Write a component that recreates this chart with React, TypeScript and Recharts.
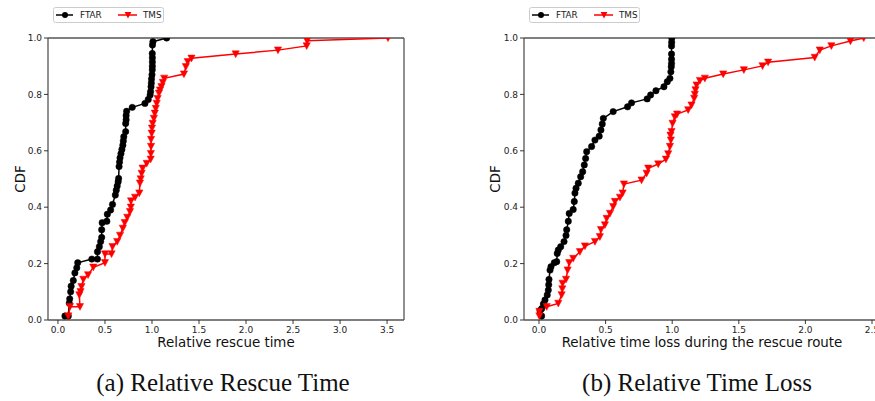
import React from 'react';
import { LineChart, Line, XAxis, YAxis, ReferenceLine } from 'recharts';

const seriesNames = ['FTAR', 'TMS'];
const seriesColors = ['#000000', '#ff0000'];
const cdfTicks = [0, 0.2, 0.4, 0.6, 0.8, 1.0];

// (a) Relative rescue time
const rescueTicks = [0, 0.5, 1.0, 1.5, 2.0, 2.5, 3.0, 3.5];
const ftarRescueX = [0.074, 0.11, 0.12, 0.125, 0.135, 0.14, 0.163, 0.18, 0.2, 0.21, 0.36, 0.42, 0.42, 0.44, 0.454, 0.465, 0.465, 0.47, 0.52, 0.525, 0.56, 0.58, 0.61, 0.62, 0.63, 0.64, 0.645, 0.65, 0.655, 0.66, 0.67, 0.68, 0.69, 0.695, 0.7, 0.72, 0.72, 0.725, 0.725, 0.73, 0.79, 0.925, 0.96, 0.98, 0.985, 0.99, 0.993, 0.995, 1.0, 1.003, 1.004, 1.004, 1.004, 1.003, 1.005, 1.01, 1.156];
const ftarRescueY = [0.014, 0.014, 0.06, 0.075, 0.1, 0.12, 0.14, 0.167, 0.185, 0.203, 0.216, 0.216, 0.242, 0.26, 0.278, 0.293, 0.32, 0.345, 0.35, 0.375, 0.39, 0.41, 0.443, 0.46, 0.475, 0.49, 0.502, 0.544, 0.56, 0.575, 0.59, 0.605, 0.62, 0.635, 0.65, 0.668, 0.697, 0.71, 0.725, 0.74, 0.754, 0.768, 0.782, 0.798, 0.81, 0.827, 0.84, 0.855, 0.87, 0.887, 0.9, 0.915, 0.93, 0.945, 0.975, 0.987, 1.0];
const tmsRescueX = [0.11, 0.128, 0.234, 0.227, 0.24, 0.25, 0.27, 0.32, 0.376, 0.5, 0.5, 0.57, 0.58, 0.63, 0.66, 0.69, 0.71, 0.737, 0.766, 0.775, 0.777, 0.82, 0.865, 0.872, 0.88, 0.89, 0.9, 0.944, 0.986, 0.988, 0.99, 0.99, 0.997, 1.0, 1.007, 1.02, 1.03, 1.04, 1.05, 1.06, 1.074, 1.085, 1.1, 1.115, 1.13, 1.34, 1.36, 1.38, 1.42, 1.89, 2.34, 2.645, 2.65, 3.51];
const tmsRescueY = [0.014, 0.047, 0.047, 0.089, 0.1, 0.118, 0.144, 0.16, 0.187, 0.203, 0.234, 0.234, 0.26, 0.278, 0.3, 0.325, 0.345, 0.364, 0.384, 0.4, 0.422, 0.435, 0.45, 0.485, 0.5, 0.52, 0.538, 0.555, 0.57, 0.59, 0.615, 0.64, 0.662, 0.68, 0.697, 0.715, 0.733, 0.75, 0.768, 0.785, 0.804, 0.815, 0.827, 0.842, 0.857, 0.872, 0.898, 0.916, 0.928, 0.943, 0.957, 0.972, 0.99, 1.0];

// (b) Relative time loss
const lossTicks = [0, 0.5, 1.0, 1.5, 2.0, 2.5];
const ftarLossX = [0.02, 0.008, 0.02, 0.033, 0.045, 0.062, 0.07, 0.073, 0.075, 0.083, 0.09, 0.115, 0.133, 0.137, 0.145, 0.163, 0.188, 0.203, 0.208, 0.22, 0.227, 0.257, 0.265, 0.27, 0.278, 0.295, 0.313, 0.328, 0.34, 0.35, 0.358, 0.395, 0.42, 0.452, 0.465, 0.475, 0.483, 0.557, 0.665, 0.695, 0.812, 0.838, 0.878, 0.938, 0.963, 0.983, 0.99, 0.993, 0.995, 0.995, 0.995, 0.995, 0.996, 0.997];
const ftarLossY = [0.014, 0.033, 0.04, 0.057, 0.071, 0.089, 0.106, 0.125, 0.144, 0.177, 0.189, 0.203, 0.207, 0.236, 0.248, 0.26, 0.278, 0.3, 0.32, 0.35, 0.378, 0.392, 0.42, 0.45, 0.467, 0.485, 0.508, 0.526, 0.55, 0.573, 0.597, 0.615, 0.638, 0.652, 0.674, 0.695, 0.715, 0.739, 0.756, 0.77, 0.784, 0.798, 0.813, 0.827, 0.845, 0.857, 0.88, 0.898, 0.91, 0.925, 0.943, 0.972, 0.985, 1.0];
const tmsLossX = [0.003, 0.003, 0.058, 0.145, 0.17, 0.175, 0.177, 0.203, 0.215, 0.227, 0.257, 0.307, 0.345, 0.42, 0.457, 0.465, 0.495, 0.508, 0.533, 0.557, 0.57, 0.608, 0.628, 0.638, 0.77, 0.808, 0.82, 0.895, 0.953, 0.97, 0.983, 0.99, 0.987, 0.995, 1.003, 1.02, 1.037, 1.12, 1.145, 1.165, 1.17, 1.175, 1.183, 1.208, 1.245, 1.383, 1.538, 1.678, 1.72, 2.07, 2.108, 2.195, 2.338, 2.438];
const tmsLossY = [0.014, 0.03, 0.047, 0.059, 0.089, 0.11, 0.13, 0.144, 0.177, 0.203, 0.218, 0.242, 0.262, 0.278, 0.295, 0.32, 0.337, 0.36, 0.378, 0.402, 0.42, 0.435, 0.45, 0.482, 0.496, 0.52, 0.538, 0.553, 0.57, 0.589, 0.615, 0.638, 0.655, 0.668, 0.697, 0.72, 0.73, 0.745, 0.762, 0.786, 0.8, 0.816, 0.833, 0.849, 0.857, 0.872, 0.887, 0.901, 0.914, 0.931, 0.957, 0.972, 0.989, 1.0];

const zip = (xs: number[], ys: number[]) => xs.map((x, i) => ({ x, y: ys[i] }));

const tickStyle = { fontSize: 9, fill: '#222', fontFamily: 'DejaVu Sans' };
const spine = '#555';

const CircleDot = (p: any) => {
  if (p.cx == null || p.cy == null) return <g key={p.index} />;
  return <circle key={p.index} cx={p.cx} cy={p.cy} r={3.2} fill="#000" stroke="#000" strokeWidth={0.5} />;
};
const TriDot = (p: any) => {
  if (p.cx == null || p.cy == null) return <g key={p.index} />;
  const { cx, cy } = p;
  const pts = `${cx - 3.6},${cy - 3.2} ${cx + 3.6},${cy - 3.2} ${cx},${cy + 3.6}`;
  return <polygon key={p.index} points={pts} fill="#ff0000" stroke="#ff0000" strokeWidth={0.5} />;
};

type PanelProps = {
  left: number;
  marginLeft: number;
  xDomain: [number, number];
  xTicks: number[];
  ftar: { x: number; y: number }[];
  tms: { x: number; y: number }[];
};

function Panel({ left, marginLeft, xDomain, xTicks, ftar, tms }: PanelProps) {
  return (
    <div style={{ position: 'absolute', left, top: 0 }}>
      <LineChart width={420} height={350} margin={{ top: 38, right: 16, left: marginLeft, bottom: 0 }}>
        <XAxis
          dataKey="x"
          type="number"
          domain={xDomain}
          ticks={xTicks}
          interval={0}
          allowDataOverflow
          height={30}
          tickSize={4}
          tickMargin={3}
          tick={tickStyle}
          tickFormatter={(v: number) => v.toFixed(1)}
          axisLine={{ stroke: spine, strokeWidth: 1.3 }}
          tickLine={{ stroke: '#222', strokeWidth: 0.9 }}
        />
        <YAxis
          type="number"
          domain={[0, 1]}
          ticks={cdfTicks}
          interval={0}
          allowDataOverflow
          width={40}
          tickSize={4}
          tickMargin={2}
          tick={tickStyle}
          tickFormatter={(v: number) => v.toFixed(1)}
          axisLine={{ stroke: spine, strokeWidth: 1.3 }}
          tickLine={{ stroke: '#222', strokeWidth: 0.9 }}
        />
        <ReferenceLine y={1} stroke={spine} strokeWidth={1.3} ifOverflow="visible" />
        <ReferenceLine x={xDomain[1]} stroke={spine} strokeWidth={1.3} ifOverflow="visible" />
        <Line
          data={ftar}
          dataKey="y"
          name={seriesNames[0]}
          type="linear"
          stroke={seriesColors[0]}
          strokeWidth={1.5}
          dot={CircleDot}
          activeDot={false}
          isAnimationActive={false}
        />
        <Line
          data={tms}
          dataKey="y"
          name={seriesNames[1]}
          type="linear"
          stroke={seriesColors[1]}
          strokeWidth={1.5}
          dot={TriDot}
          activeDot={false}
          isAnimationActive={false}
        />
      </LineChart>
    </div>
  );
}

function LegendBox({ x }: { x: number }) {
  return (
    <g transform={`translate(${x},7)`}>
      <rect x={0.5} y={0.5} width={110} height={15} rx={2} fill="#fff" stroke="#cccccc" strokeWidth={1} />
      <line x1={3} y1={8} x2={20} y2={8} stroke={seriesColors[0]} strokeWidth={1.5} />
      <circle cx={12} cy={8} r={3} fill={seriesColors[0]} />
      <text x={27} y={11.2} fontSize={8.8} fontFamily="DejaVu Sans" fill="#222">{seriesNames[0]}</text>
      <line x1={65} y1={8} x2={84} y2={8} stroke={seriesColors[1]} strokeWidth={1.5} />
      <polygon points={`${75 - 3.4},${8 - 3} ${75 + 3.4},${8 - 3} 75,${8 + 3.4}`} fill={seriesColors[1]} />
      <text x={90} y={11.2} fontSize={8.8} fontFamily="DejaVu Sans" fill="#222">{seriesNames[1]}</text>
    </g>
  );
}

export default function App() {
  return (
    <div style={{ position: 'fixed', left: 0, top: 0, width: 875, height: 401, overflow: 'hidden', background: '#fff' }}>
      <Panel left={0} marginLeft={8} xDomain={[-0.106, 3.68]} xTicks={rescueTicks} ftar={zip(ftarRescueX, ftarRescueY)} tms={zip(tmsRescueX, tmsRescueY)} />
      <Panel left={480} marginLeft={4} xDomain={[-0.1125, 2.59]} xTicks={lossTicks} ftar={zip(ftarLossX, ftarLossY)} tms={zip(tmsLossX, tmsLossY)} />
      <svg width={875} height={401} style={{ position: 'absolute', left: 0, top: 0, pointerEvents: 'none' }}>
        <LegendBox x={53} />
        <LegendBox x={529} />
        <text x={0} y={0} transform="translate(25,179) rotate(-90)" textAnchor="middle" fontSize={13.4} fontFamily="DejaVu Sans" fill="#111">CDF</text>
        <text x={0} y={0} transform="translate(500,179) rotate(-90)" textAnchor="middle" fontSize={13.4} fontFamily="DejaVu Sans" fill="#111">CDF</text>
        <text x={226} y={347} textAnchor="middle" fontSize={13.4} fontFamily="DejaVu Sans" fill="#111">Relative rescue time</text>
        <text x={702} y={347} textAnchor="middle" fontSize={13.4} fontFamily="DejaVu Sans" fill="#111">Relative time loss during the rescue route</text>
        <text x={223} y={391} textAnchor="middle" fontSize={25} fontFamily="Liberation Serif" fill="#111">(a) Relative Rescue Time</text>
        <text x={697} y={391} textAnchor="middle" fontSize={25} fontFamily="Liberation Serif" fill="#111">(b) Relative Time Loss</text>
      </svg>
    </div>
  );
}
